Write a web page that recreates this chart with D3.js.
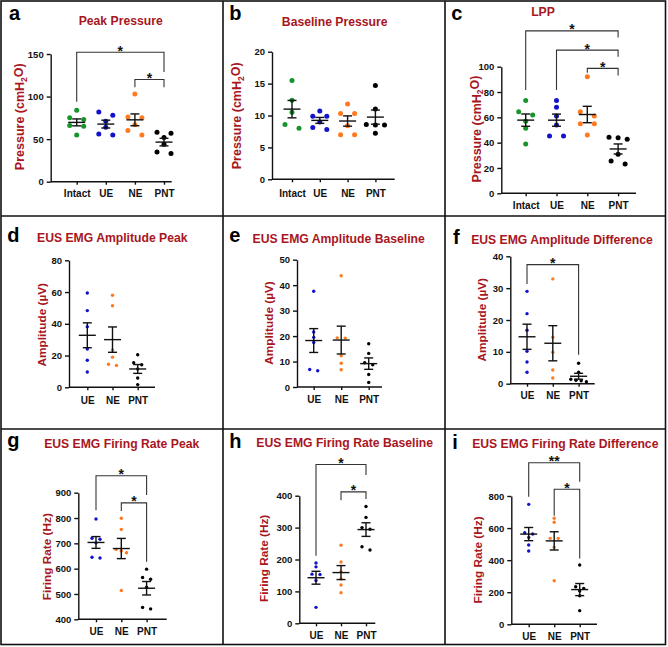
<!DOCTYPE html>
<html>
<head>
<meta charset="utf-8">
<script src="https://cdn.jsdelivr.net/npm/d3@7"></script>
<style>
body { margin: 0; background: #fff; }
text { font-family: Arial, "Liberation Sans", sans-serif; }
</style>
</head>
<body>
<script>
// Data

var pressureGroups = ["Intact", "UE", "NE", "PNT"];
var emgGroups = ["UE", "NE", "PNT"];
var groupColors = {Intact: "#16952b", UE: "#1212cc", NE: "#ff7a1e", PNT: "#000000"};

var peakPressure = [[84, 75, 73, 66, 65, 55], [82, 78, 71, 64, 56, 55], [103, 76, 75, 67, 60, 55], [58, 57, 52, 44, 35, 33]];
var peakPressureTicks = [0, 50, 100, 150];
var peakPressureSig = [
	{from: "Intact", to: "PNT", y: 152, left: 94, right: 129, label: "*"},
	{from: "NE", to: "PNT", y: 120, left: 111, right: 111, label: "*"}
];

var basePressure = [[15.5, 12.4, 10.5, 8.6, 8.0], [10.7, 9.9, 9.9, 9.0, 8.1, 7.8], [11.8, 10.3, 10.3, 8.4, 7.0, 7.0], [14.7, 11.0, 8.6, 8.5, 8.5, 7.2]];
var basePressureTicks = [0, 5, 10, 15, 20];

var lpp = [[73.4, 64.4, 61.8, 57, 51.3, 38.9], [73.4, 67.9, 61, 53.9, 45.2, 45.2], [92, 64.4, 61, 55, 55, 46], [44.2, 43.9, 42.6, 30.8, 25.5, 23.1]];
var lppTicks = [0, 20, 40, 60, 80, 100];
var lppSig = [
	{from: "Intact", to: "PNT", y: 128.3, left: 81.5, right: 123, label: "*"},
	{from: "UE", to: "PNT", y: 113.1, left: 81.5, right: 107.8, label: "*"},
	{from: "NE", to: "PNT", y: 98.7, left: 95.2, right: 93, label: "*"}
];

var ampPeak = [[59.4, 48.3, 38.2, 24.1, 17, 9.6], [58, 51.4, 23.5, 19, 14.5, 13.8], [20.5, 15.5, 14.2, 11.5, 5.9, 1.7]];
var ampPeakTicks = [0, 20, 40, 60, 80];

var ampBase = [[37.6, 21.6, 19.5, 17.5, 6.9, 6.4], [43.7, 19.3, 19.2, 12.3, 9.3, 6.8], [17, 13.2, 9.5, 8.7, 4.9, 1.8]];
var ampBaseTicks = [0, 10, 20, 30, 40, 50];

var ampDiff = [[29, 22, 16.8, 10.2, 6.8, 3.6], [32.9, 14.6, 9.9, 4.3, 1.8], [6.4, 3.6, 1.4, 1.1, 0.9, 0.6]];
var ampDiffTicks = [0, 10, 20, 30, 40];
var ampDiffSig = [{from: "UE", to: "PNT", y: 37.4, left: 31.3, right: 9.1, label: "*"}];

var ratePeak = [[796, 720, 716, 702, 645, 642], [799, 755, 676, 670, 663, 514], [598, 565, 558, 527, 441, 447]];
var ratePeakTicks = [400, 500, 600, 700, 800, 900];
var ratePeakSig = [
	{from: "UE", to: "PNT", y: 967, left: 831, right: 891, label: "*"},
	{from: "NE", to: "PNT", y: 860, left: 828, right: 627, label: "*"}
];

var rateBase = [[189, 177, 154, 153, 134, 50], [245, 192, 162, 139, 120, 96], [366, 332, 300, 295, 240, 230]];
var rateBaseTicks = [0, 100, 200, 300, 400];
var rateBaseSig = [
	{from: "UE", to: "PNT", y: 498, left: 212, right: 465, label: "*"},
	{from: "NE", to: "PNT", y: 412, left: 386, right: 390, label: "*"}
];

var rateDiff = [[748, 571, 563, 542, 494, 457], [661, 636, 536, 536, 480, 272], [370, 234, 224, 208, 178, 85]];
var rateDiffTicks = [0, 200, 400, 600, 800];
var rateDiffSig = [
	{from: "UE", to: "PNT", y: 1007, left: 795, right: 889, label: "**"},
	{from: "NE", to: "PNT", y: 842, left: 677, right: 411, label: "*"}
];

// Layout of each panel (page pixels)

var titleRed = "#a8161e";
var panels = [
	{letter: "a", title: "Peak Pressure", yLabel: "pressure", groups: pressureGroups, values: peakPressure, ticks: peakPressureTicks, sig: peakPressureSig,
		ax: 50.7, yTop: 54, yBot: 181.7, xEnd: 171.7, cx0: 76.7, step: 29.1, xLabY: 197, titleX: 120.7, titleY: 25, lx: 9, ly: 19.5, ylx: 20, yly: 116.7, r: 2.5, gap: 7},
	{letter: "b", title: "Baseline Pressure", yLabel: "pressure", groups: pressureGroups, values: basePressure, ticks: basePressureTicks, sig: [],
		ax: 272, yTop: 51.7, yBot: 179.3, xEnd: 394.7, cx0: 292, step: 27.8, xLabY: 197, titleX: 334.7, titleY: 25.7, lx: 229.3, ly: 20, ylx: 237, yly: 115.8, r: 2.5, gap: 7},
	{letter: "c", title: "LPP", yLabel: "pressure", groups: pressureGroups, values: lpp, ticks: lppTicks, sig: lppSig,
		ax: 501.3, yTop: 66.7, yBot: 193.3, xEnd: 636, cx0: 525.7, step: 30.8, xLabY: 208.7, titleX: 543, titleY: 15.7, lx: 451.3, ly: 19.5, ylx: 476.3, yly: 129, r: 2.5, gap: 7},
	{letter: "d", title: "EUS EMG Amplitude Peak", yLabel: "amp", groups: emgGroups, values: ampPeak, ticks: ampPeakTicks, sig: [],
		ax: 69, yTop: 260.3, yBot: 387.3, xEnd: 155, cx0: 87.3, step: 25.2, xLabY: 404.4, titleX: 112.3, titleY: 242.3, lx: 7.3, ly: 242.3, ylx: 41.7, yly: 324.7, r: 1.7, gap: 4},
	{letter: "e", title: "EUS EMG Amplitude Baseline", yLabel: "amp", groups: emgGroups, values: ampBase, ticks: ampBaseTicks, sig: [],
		ax: 297, yTop: 259.7, yBot: 387, xEnd: 382, cx0: 313.7, step: 27.5, xLabY: 403.4, titleX: 338.7, titleY: 242.8, lx: 229.3, ly: 242.3, ylx: 268.7, yly: 323, r: 1.7, gap: 4},
	{letter: "f", title: "EUS EMG Amplitude Difference", yLabel: "amp", groups: emgGroups, values: ampDiff, ticks: ampDiffTicks, sig: ampDiffSig,
		ax: 510.3, yTop: 256.3, yBot: 383.7, xEnd: 594.7, cx0: 527, step: 25.8, xLabY: 399, titleX: 562, titleY: 243.5, lx: 453, ly: 243.7, ylx: 482.3, yly: 319.7, r: 1.7, gap: 4},
	{letter: "g", title: "EUS EMG Firing Rate Peak", yLabel: "rate", groups: emgGroups, values: ratePeak, ticks: ratePeakTicks, sig: ratePeakSig,
		ax: 78.3, yTop: 492.7, yBot: 619.3, xEnd: 166.7, cx0: 96, step: 25.3, xLabY: 635.4, titleX: 121.7, titleY: 447.5, lx: 7.3, ly: 446.7, ylx: 46.7, yly: 556.7, r: 1.7, gap: 4},
	{letter: "h", title: "EUS EMG Firing Rate Baseline", yLabel: "rate", groups: emgGroups, values: rateBase, ticks: rateBaseTicks, sig: rateBaseSig,
		ax: 299.3, yTop: 495.7, yBot: 623.3, xEnd: 375.3, cx0: 316, step: 25, xLabY: 638.7, titleX: 344.7, titleY: 446.7, lx: 229.3, ly: 447.7, ylx: 263.7, yly: 558.3, r: 1.7, gap: 4},
	{letter: "i", title: "EUS EMG Firing Rate Difference", yLabel: "rate", groups: emgGroups, values: rateDiff, ticks: rateDiffTicks, sig: rateDiffSig,
		ax: 511.3, yTop: 496, yBot: 624.3, xEnd: 597, cx0: 528.7, step: 25.5, xLabY: 640.4, titleX: 565.3, titleY: 447.5, lx: 452.3, ly: 449, ylx: 478, yly: 560, r: 1.7, gap: 4}
];

var svg = d3.select("body").append("svg")
	.attr("width", 668).attr("height", 647);

// panel frame
var frame = svg.append("g").attr("stroke", "#111").attr("stroke-width", 1.6).attr("fill", "none");
frame.append("rect").attr("x", 1).attr("y", 1).attr("width", 664.5).attr("height", 643.5);
[223, 445].forEach(function(x){
	frame.append("line").attr("x1", x).attr("x2", x).attr("y1", 1).attr("y2", 644.5);
});
[216, 429].forEach(function(y){
	frame.append("line").attr("x1", 1).attr("x2", 665.5).attr("y1", y).attr("y2", y);
});

// spread points that sit on about the same level into a row
function rowOffsets(vals, y, thr, gap){
	var order = vals.map(function(v, i){ return i; }).sort(function(a, b){ return vals[b] - vals[a]; });
	var off = [];
	var row = [];
	function flush(){
		var n = row.length;
		var sp = n == 2 ? gap * 2 : gap * 1.3;
		row.forEach(function(k, j){ off[k] = (j - (n - 1) / 2) * sp; });
		row = [];
	}
	order.forEach(function(k){
		if (row.length && Math.abs(y(vals[k]) - y(vals[row[0]])) > thr) flush();
		row.push(k);
	});
	flush();
	return off;
}

function addYLabel(g, p){
	var t = g.append("text")
		.attr("transform", "translate(" + p.ylx + "," + p.yly + ") rotate(-90)")
		.attr("text-anchor", "middle")
		.attr("dy", "0.35em")
		.attr("fill", titleRed)
		.attr("font-weight", "bold");
	if (p.yLabel == "pressure"){
		t.attr("font-size", "12.5px");
		t.append("tspan").text("Pressure (cmH");
		t.append("tspan").text("2").attr("font-size", "8.5px").attr("dy", "0.3em");
		t.append("tspan").text("O)").attr("dy", "-0.3em");
	} else if (p.yLabel == "amp"){
		t.attr("font-size", "11.8px").text("Amplitude (\u00b5V)");
	} else {
		t.attr("font-size", "11.8px").text("Firing Rate (Hz)");
	}
}

function drawPanel(p){
	var g = svg.append("g");
	var y = d3.scaleLinear()
		.domain([p.ticks[0], p.ticks[p.ticks.length - 1]])
		.range([p.yBot, p.yTop]);
	var x = d3.scalePoint()
		.domain(p.groups)
		.range([p.cx0, p.cx0 + p.step * (p.groups.length - 1)]);

	// letter and title
	g.append("text").attr("x", p.lx).attr("y", p.ly)
		.attr("font-size", "20px").attr("font-weight", "bold").attr("fill", "#000")
		.text(p.letter);
	g.append("text").attr("x", p.titleX).attr("y", p.titleY)
		.attr("text-anchor", "middle")
		.attr("font-size", "12.2px").attr("font-weight", "bold").attr("fill", titleRed)
		.text(p.title);
	addYLabel(g, p);

	// axes
	var yg = g.append("g").attr("transform", "translate(" + p.ax + ",0)")
		.call(d3.axisLeft(y).tickValues(p.ticks).tickSize(4).tickSizeOuter(0));
	var xg = g.append("g").attr("transform", "translate(0," + p.yBot + ")")
		.call(d3.axisBottom(x).tickSize(3).tickSizeOuter(0));
	xg.select(".domain").remove();
	xg.append("line").attr("x1", p.ax).attr("x2", p.xEnd)
		.attr("stroke", "#111").attr("stroke-width", 1.4);
	[yg, xg].forEach(function(a){
		a.attr("font-family", null).attr("font-size", null);
		a.selectAll("path, line").attr("stroke", "#111").attr("stroke-width", 1.4);
		a.selectAll("text").attr("font-weight", "bold").attr("fill", "#111");
	});
	yg.selectAll("text").attr("font-size", "9.5px");
	xg.selectAll("text").attr("font-size", "10px")
		.attr("dy", null).attr("y", p.xLabY - p.yBot);

	// significance brackets
	p.sig.forEach(function(s){
		var x1 = x(s.from), x2 = x(s.to);
		g.append("path")
			.attr("d", "M" + x1 + "," + y(s.left) + "V" + y(s.y) + "H" + x2 + "V" + y(s.right))
			.attr("fill", "none").attr("stroke", "#333").attr("stroke-width", 1.1);
		g.append("text").attr("x", (x1 + x2) / 2).attr("y", y(s.y) + 3.5)
			.attr("text-anchor", "middle")
			.attr("font-size", "14px").attr("font-weight", "bold").attr("fill", "#111")
			.text(s.label);
	});

	// points, then mean and SEM on top
	p.groups.forEach(function(name, i){
		var vals = p.values[i];
		var off = rowOffsets(vals, y, p.r * 2, p.gap);
		g.append("g").selectAll("circle")
			.data(vals)
			.enter()
			.append("circle")
			.attr("cx", function(d, k){ return x(name) + off[k]; })
			.attr("cy", function(d){ return y(d); })
			.attr("r", p.r)
			.attr("fill", groupColors[name]);

		var m = d3.mean(vals);
		var se = d3.deviation(vals) / Math.sqrt(vals.length);
		var cx = x(name);
		var eb = g.append("g").attr("stroke", "#111").attr("stroke-width", 1.4);
		eb.append("line").attr("x1", cx - 8.5).attr("x2", cx + 8.5).attr("y1", y(m)).attr("y2", y(m));
		eb.append("line").attr("x1", cx).attr("x2", cx).attr("y1", y(m - se)).attr("y2", y(m + se));
		eb.append("line").attr("x1", cx - 4.5).attr("x2", cx + 4.5).attr("y1", y(m + se)).attr("y2", y(m + se));
		eb.append("line").attr("x1", cx - 4.5).attr("x2", cx + 4.5).attr("y1", y(m - se)).attr("y2", y(m - se));
	});
}

panels.forEach(drawPanel);
</script>
</body>
</html>
